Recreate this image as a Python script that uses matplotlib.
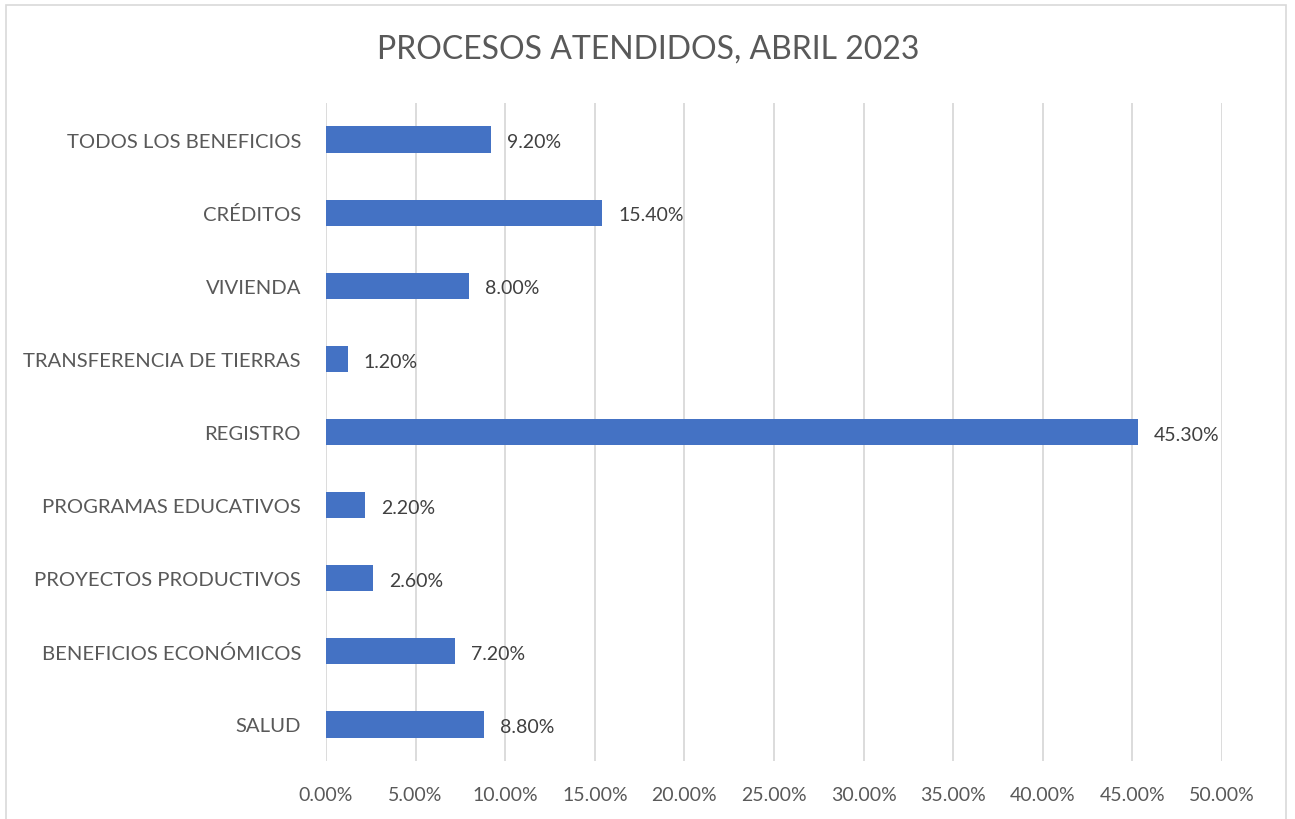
import matplotlib.pyplot as plt
from matplotlib.patches import Rectangle
from matplotlib.ticker import FuncFormatter

categorias = ["SALUD", "BENEFICIOS ECONÓMICOS", "PROYECTOS PRODUCTIVOS",
              "PROGRAMAS EDUCATIVOS", "REGISTRO", "TRANSFERENCIA DE TIERRAS",
              "VIVIENDA", "CRÉDITOS", "TODOS LOS BENEFICIOS"]
porcentajes = [8.8, 7.2, 2.6, 2.2, 45.3, 1.2, 8.0, 15.4, 9.2]
ticks_x = [0, 5, 10, 15, 20, 25, 30, 35, 40, 45, 50]

plt.rcParams['font.family'] = ['Lato', 'DejaVu Sans']

W, H = 1295, 820
fig = plt.figure(figsize=(W / 100, H / 100), dpi=100)
fig.patch.set_facecolor("white")

# marco del grafico
fig.add_artist(Rectangle((6 / W, -0.01), (1286 - 6) / W, 1.01 - 6 / H,
                         transform=fig.transFigure, fill=False,
                         edgecolor="#d9d9d9", linewidth=1.2))

ax = fig.add_axes([326 / W, 1 - 762 / H, (1222 - 326) / W, (762 - 104) / H])
y = range(len(categorias))
bars = ax.barh(y, porcentajes, height=0.36, color="#4472C4")

for b, v in zip(bars, porcentajes):
    ax.text(v + 0.9, b.get_y() + b.get_height() / 2 - 0.03, "{:.2f}%".format(v),
            va="center", ha="left", fontsize=14, color="#404040")

ax.set_xlim(0, 50)
ax.set_ylim(-0.5, len(categorias) - 0.5)
ax.set_xticks(ticks_x)
ax.xaxis.set_major_formatter(FuncFormatter(lambda v, p: "{:.2f}%".format(v)))
ax.set_yticks(list(y))
ax.set_yticklabels(categorias)
ax.tick_params(axis="both", length=0, labelsize=14, colors="#595959")
ax.tick_params(axis="x", pad=18)
ax.tick_params(axis="y", pad=18, labelsize=14.6)
ax.grid(axis="x", color="#d9d9d9", linewidth=1.3)
ax.set_axisbelow(True)
for s in ax.spines.values():
    s.set_visible(False)

fig.text(648 / W, 1 - 50 / H, "PROCESOS ATENDIDOS, ABRIL 2023",
         ha="center", va="center", fontsize=23, color="#595959")

fig.savefig("out.png", dpi=100)
